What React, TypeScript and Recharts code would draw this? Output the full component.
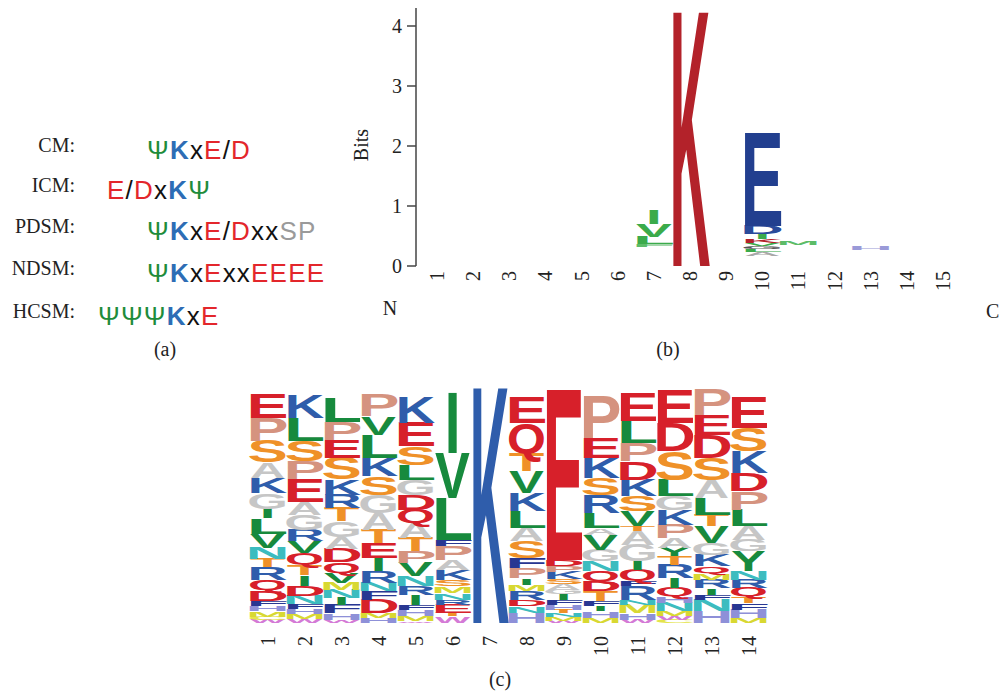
import React from 'react';
import { BarChart, Bar, XAxis, YAxis } from 'recharts';

type Stack = [string, number][];

const SERIF = '"Liberation Serif", "Times New Roman", serif';
const SANS = '"Liberation Sans", Arial, sans-serif';

// (a) motif definitions
const MOTIF_NAMES = ['CM:', 'ICM:', 'PDSM:', 'NDSM:', 'HCSM:'];
const MOTIF_SEQS = ['ΨKxE/D', 'E/DxKΨ', 'ΨKxE/DxxSP', 'ΨKxExxEEEE', 'ΨΨΨKxE'];

// (b) information content logo, bits per position (letters listed top -> bottom, '' = too small to see)
const POSITIONS_B = ['1', '2', '3', '4', '5', '6', '7', '8', '9', '10', '11', '12', '13', '14', '15'];
const B_POS7: Stack = [['I', 0.24], ['V', 0.22], ['L', 0.12], ['F', 0.04], ['', 0.32]];
const B_POS8: Stack = [['K', 4.22]];
const B_POS10: Stack = [
  ['E', 1.55], ['D', 0.14], ['I', 0.08], ['K', 0.07], ['V', 0.05],
  ['G', 0.05], ['L', 0.05], ['A', 0.06], ['', 0.17],
];
const B_POS11: Stack = [['M', 0.07], ['', 0.35]];
const B_POS13: Stack = [['H', 0.06], ['', 0.27]];
const STACKS_B: Stack[] = [[], [], [], [], [], [], B_POS7, B_POS8, [], B_POS10, B_POS11, [], B_POS13, [], []];
const BITS_TICKS = [0, 1, 2, 3, 4];

// (c) frequency logo, percent per position (top -> bottom)
const POSITIONS_C = ['1', '2', '3', '4', '5', '6', '7', '8', '9', '10', '11', '12', '13', '14'];
const C_POS1: Stack = [['E', 10], ['P', 9.5], ['S', 9], ['A', 6.5], ['K', 6.5], ['G', 6.5], ['I', 4], ['L', 6.5], ['V', 6], ['N', 4.5], ['T', 3.5], ['R', 5.5], ['Q', 4.3], ['D', 4.3], ['F', 2.2], ['H', 2.3], ['M', 2.2], ['C', 1.4], ['W', 1.3]];
const C_POS2: Stack = [['K', 9.5], ['L', 9.5], ['S', 8.5], ['P', 7.5], ['E', 9.5], ['A', 5.5], ['G', 6.5], ['R', 4.5], ['V', 5], ['Q', 5], ['T', 4.5], ['I', 4.3], ['D', 4.3], ['N', 3.5], ['F', 2], ['H', 2], ['M', 2.2], ['W', 1.7]];
const C_POS3: Stack = [['L', 10], ['P', 7.7], ['E', 7.5], ['S', 8.8], ['K', 6.5], ['R', 5.6], ['T', 5.6], ['G', 6.5], ['A', 5], ['D', 5.6], ['Q', 4.4], ['V', 4.2], ['M', 3], ['N', 3.5], ['I', 3], ['F', 3.5], ['H', 2.8], ['W', 1.2]];
const C_POS4: Stack = [['P', 9.1], ['V', 7.7], ['L', 9.8], ['K', 7.7], ['S', 7.7], ['G', 7.7], ['A', 7], ['T', 5.6], ['E', 6.3], ['I', 5.6], ['R', 4.9], ['N', 3.5], ['F', 3.5], ['D', 5.6], ['M', 2.1], ['H', 2.1]];
const C_POS5: Stack = [['K', 10.5], ['E', 10], ['S', 7.7], ['L', 6.3], ['G', 6.3], ['D', 6.3], ['Q', 5.6], ['A', 6.3], ['T', 5.6], ['P', 4.9], ['V', 5.6], ['N', 4.2], ['R', 3.5], ['I', 4.2], ['F', 2.1], ['H', 2.8], ['M', 2.1], ['W', 0.7]];
const C_POS6: Stack = [['I', 25.2], ['V', 18.9], ['L', 17.5], ['F', 2.8], ['P', 5.6], ['A', 4.2], ['K', 4.2], ['S', 2.8], ['M', 2.8], ['N', 2.8], ['R', 2.1], ['E', 3.5], ['T', 1.4], ['W', 2.8]];
const C_POS7: Stack = [['K', 98.5]];
const C_POS8: Stack = [['E', 10.5], ['Q', 12.5], ['T', 7.7], ['V', 9.1], ['K', 7.7], ['L', 7], ['A', 5.6], ['S', 7], ['F', 4.2], ['P', 4.2], ['I', 2.8], ['M', 2.8], ['R', 3.5], ['D', 2.8], ['N', 2.8], ['H', 4.2]];
const C_POS9: Stack = [['E', 71.5], ['D', 2.5], ['P', 2.5], ['K', 3], ['S', 2], ['A', 2.5], ['G', 2], ['I', 2.5], ['F', 2], ['H', 2], ['T', 1.5], ['N', 1.5], ['M', 1.5], ['W', 1]];
const C_POS10: Stack = [['P', 17.5], ['E', 8.4], ['K', 8.4], ['S', 7], ['R', 7.7], ['L', 6.3], ['A', 2.8], ['V', 6.3], ['G', 4.9], ['N', 4.2], ['Q', 4.2], ['D', 4.2], ['T', 4.2], ['F', 2.1], ['I', 2.1], ['H', 2.8], ['M', 2.1]];
const C_POS11: Stack = [['E', 11.9], ['L', 9.1], ['P', 7.7], ['D', 7.7], ['K', 7], ['S', 6.3], ['V', 6.3], ['T', 2.1], ['A', 5.6], ['G', 7], ['I', 3.5], ['Q', 4.9], ['F', 2.1], ['R', 5.6], ['N', 2.1], ['M', 3.5], ['H', 2.8], ['W', 1.4]];
const C_POS12: Stack = [['E', 14], ['D', 11.9], ['S', 11.9], ['L', 7], ['G', 5.6], ['K', 6.3], ['P', 5.6], ['A', 4.2], ['Y', 3.5], ['T', 3.5], ['R', 5.6], ['I', 4.2], ['Q', 3.5], ['H', 2.8], ['N', 3.5], ['M', 2.1], ['W', 1.4], ['C', 1.4]];
const C_POS13: Stack = [['P', 10.5], ['E', 8.4], ['D', 9.8], ['S', 9.1], ['A', 7.7], ['L', 7], ['T', 4.9], ['V', 7], ['G', 4.9], ['K', 4.9], ['Q', 2.8], ['M', 2.8], ['R', 3.5], ['I', 2.8], ['F', 2.1], ['N', 4.9], ['H', 4.9]];
const C_POS14: Stack = [['E', 12.6], ['S', 9.8], ['K', 9.1], ['D', 7.7], ['P', 7.7], ['L', 7], ['A', 5.6], ['G', 4.9], ['Y', 8.4], ['N', 3.5], ['R', 3.5], ['Q', 3.5], ['T', 2.8], ['F', 2.8], ['H', 3.5], ['M', 2.1]];
const STACKS_C: Stack[] = [C_POS1, C_POS2, C_POS3, C_POS4, C_POS5, C_POS6, C_POS7, C_POS8, C_POS9, C_POS10, C_POS11, C_POS12, C_POS13, C_POS14];

const COLORS_B: Record<string, string> = {
  K: '#b3222a', E: '#223f8f', D: '#2a4a9a', I: '#3bab4b', V: '#3bab4b', L: '#3bab4b',
  F: '#5cbc68', M: '#5cbc68', A: '#a8a8a8', G: '#555555', H: '#9a9ad8',
};

const COLORS_C: Record<string, string> = {
  E: '#d7202a', D: '#d7202a', Q: '#d7202a',
  K: '#2f5dab', R: '#2f5dab',
  L: '#178a3d', V: '#178a3d', I: '#178a3d', Y: '#178a3d',
  P: '#d5937f', S: '#ef9128', T: '#ef9128',
  A: '#c6c6c6', G: '#c6c6c6', N: '#3cbcbf',
  M: '#d8d832', C: '#e4e44a', F: '#283792', H: '#8e90d8', W: '#d47ad6',
};

// approximate ink widths of bold sans capitals, in 1/100 em
const INK: Record<string, number> = {
  A: 72, C: 62, D: 60, E: 56, F: 50, G: 67, H: 58, K: 64, L: 52, M: 69,
  N: 58, P: 56, Q: 70, R: 63, S: 58, T: 60, V: 67, W: 94, Y: 67,
};
const CAP = 68.8; // Liberation Sans Bold cap height, 1/100 em

function buildRows(labels: string[], stacks: Stack[]) {
  return labels.map((label, i) => {
    const row: Record<string, any> = { label };
    [...stacks[i]].reverse().forEach(([letter, h], j) => {
      row['h' + j] = h;
      row['l' + j] = letter;
    });
    return row;
  });
}

const rowsB = buildRows(POSITIONS_B, STACKS_B);
const rowsC = buildRows(POSITIONS_C, STACKS_C);
const depthB = Math.max(...STACKS_B.map((s) => s.length));
const depthC = Math.max(...STACKS_C.map((s) => s.length));

function Glyph({ x, y, width, height, letter, color }: any) {
  if (!letter || !height || height <= 0.3) return null;
  const ink = letter === 'I' ? 62 : INK[letter] ?? 62;
  const sx = width / ink;
  const sy = height / CAP;
  return (
    <text
      transform={`translate(${x + width / 2},${y + height}) scale(${sx},${sy})`}
      textAnchor="middle"
      fontFamily={SANS}
      fontWeight="bold"
      fontSize={100}
      fill={color}
    >
      {letter}
    </text>
  );
}

function letterShape(j: number, colors: Record<string, string>) {
  return (props: any) => {
    const letter = props.payload?.['l' + j];
    return (
      <Glyph
        x={props.x}
        y={props.y}
        width={props.width}
        height={props.height}
        letter={letter}
        color={colors[letter] ?? '#888'}
      />
    );
  };
}

const RotatedTick = (props: any) => {
  const { x, y, payload } = props;
  return (
    <text
      x={x}
      y={y}
      transform={`rotate(-90 ${x} ${y})`}
      textAnchor="end"
      dy="0.35em"
      fontFamily={SERIF}
      fontSize={20}
      fill="#222"
    >
      {payload.value}
    </text>
  );
};

const CHAR_STYLE: Record<string, { fill: string; bold?: boolean }> = {
  'Ψ': { fill: '#1f8c3b' },
  K: { fill: '#2d6db5', bold: true },
  x: { fill: '#111' },
  '/': { fill: '#111' },
  E: { fill: '#e3262b' },
  D: { fill: '#e3262b' },
  S: { fill: '#9a9a9a' },
  P: { fill: '#9a9a9a' },
};

const LABEL_BASE = [152, 192, 233, 275, 318];
const MOTIF_X = [147, 107, 147, 147, 98];

export default function App() {
  return (
    <div style={{ position: 'absolute', left: 0, top: 0, width: 999, height: 691, background: '#fff', overflow: 'hidden' }}>
      {/* (b) */}
      <div style={{ position: 'absolute', left: 330, top: 0 }}>
        <BarChart
          width={669}
          height={330}
          data={rowsB}
          margin={{ top: 8, right: 38, left: 0, bottom: 24 }}
          barCategoryGap={0}
          barGap={0}
        >
          <XAxis
            dataKey="label"
            interval={0}
            axisLine={false}
            tickLine={false}
            tickSize={0}
            tickMargin={5}
            height={40}
            padding={{ left: 3, right: 0 }}
            tick={<RotatedTick />}
          />
          <YAxis
            width={86}
            domain={[0, 4.3]}
            ticks={BITS_TICKS}
            allowDataOverflow
            axisLine={{ stroke: '#444', strokeWidth: 1.5 }}
            tickLine={{ stroke: '#444', strokeWidth: 1.5 }}
            tickSize={9}
            tickMargin={5}
            tick={{ fontFamily: SERIF, fontSize: 20, fill: '#222' }}
          />
          {Array.from({ length: depthB }, (_, j) => (
            <Bar key={j} dataKey={'h' + j} stackId="s" isAnimationActive={false} shape={letterShape(j, COLORS_B)} />
          ))}
        </BarChart>
      </div>

      {/* (c) */}
      <div style={{ position: 'absolute', left: 230, top: 370 }}>
        <BarChart
          width={560}
          height={310}
          data={rowsC}
          margin={{ top: 15, right: 23, left: 19, bottom: 17 }}
          barCategoryGap={1}
          barGap={0}
        >
          <XAxis
            dataKey="label"
            interval={0}
            axisLine={false}
            tickLine={false}
            tickSize={0}
            tickMargin={13}
            height={40}
            tick={<RotatedTick />}
          />
          <YAxis hide domain={[0, 100]} allowDataOverflow />
          {Array.from({ length: depthC }, (_, j) => (
            <Bar key={j} dataKey={'h' + j} stackId="s" isAnimationActive={false} shape={letterShape(j, COLORS_C)} />
          ))}
        </BarChart>
      </div>

      {/* annotations */}
      <svg width={999} height={691} style={{ position: 'absolute', left: 0, top: 0, pointerEvents: 'none' }}>
        {MOTIF_NAMES.map((name, i) => (
          <text key={name} x={75} y={LABEL_BASE[i]} textAnchor="end" fontFamily={SERIF} fontSize={20} fill="#222">
            {name}
          </text>
        ))}
        {MOTIF_SEQS.map((seq, i) => (
          <text key={seq} x={MOTIF_X[i]} y={LABEL_BASE[i] + 7} fontFamily={SANS} fontSize={26} style={{ letterSpacing: 1.2 }}>
            {Array.from(seq).map((ch, k) => (
              <tspan key={k} fill={CHAR_STYLE[ch]?.fill ?? '#111'} fontWeight={CHAR_STYLE[ch]?.bold ? 'bold' : 'normal'}>
                {ch}
              </tspan>
            ))}
          </text>
        ))}
        <text x={165} y={356} textAnchor="middle" fontFamily={SERIF} fontSize={20} fill="#222">(a)</text>
        <text x={668} y={356} textAnchor="middle" fontFamily={SERIF} fontSize={20} fill="#222">(b)</text>
        <text x={500} y={686} textAnchor="middle" fontFamily={SERIF} fontSize={20} fill="#222">(c)</text>
        <text x={368} y={145} transform="rotate(-90 368 145)" textAnchor="middle" fontFamily={SERIF} fontSize={20} fill="#222">Bits</text>
        <text x={390} y={315} textAnchor="middle" fontFamily={SERIF} fontSize={20} fill="#222">N</text>
        <text x={986} y={318} fontFamily={SERIF} fontSize={20} fill="#222">C</text>
      </svg>
    </div>
  );
}
